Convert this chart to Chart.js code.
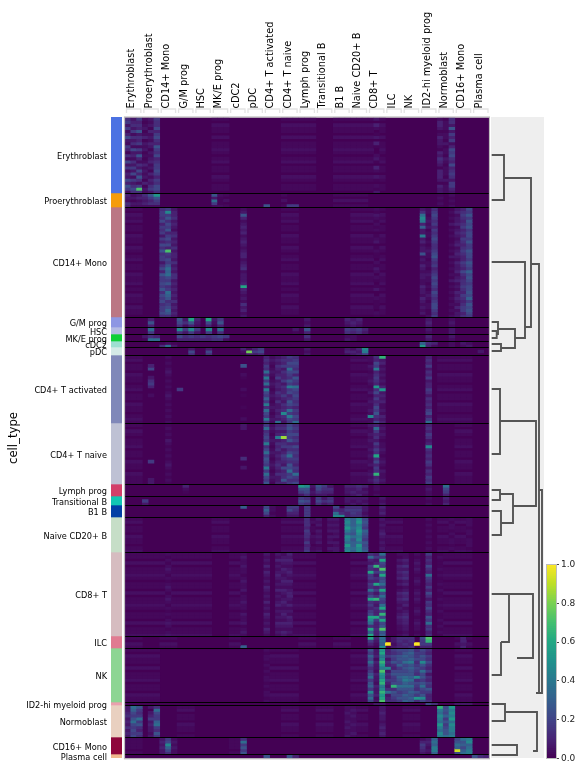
<!DOCTYPE html>
<html><head><meta charset="utf-8">
<script src="https://cdn.jsdelivr.net/npm/chart.js@4"></script>
<style>
html,body{margin:0;padding:0;background:#fff;width:583px;height:771px;overflow:hidden}
canvas{position:absolute;display:block}
</style></head><body>
<canvas id="main" width="490" height="760" style="left:0;top:0"></canvas>
<canvas id="strip" width="11" height="641" style="left:111px;top:117px"></canvas>
<canvas id="dendro" width="53" height="641" style="left:491px;top:117px;background:#eeeeee"></canvas>
<canvas id="cbar" width="37" height="213" style="left:546px;top:558px"></canvas>
<script>
const cellTypes=["Erythroblast","Proerythroblast","CD14+ Mono","G/M prog","HSC","MK/E prog","cDC2","pDC","CD4+ T activated","CD4+ T naive","Lymph prog","Transitional B","B1 B","Naive CD20+ B","CD8+ T","ILC","NK","ID2-hi myeloid prog","Normoblast","CD16+ Mono","Plasma cell"];
const groupSizes=[76,14,110,10,7,7,6,8,68,61,12,9,12,35,84,12,54,3,32,17,4];
const rowCounts=[25,5,37,3,2,2,2,3,23,20,4,3,4,12,28,4,18,1,11,6,1];
const groupColors=["#4c72e2","#f59c0c","#bb7784","#8e96e3","#b5bbe3","#0fcf37","#9edfd1","#d5eae7","#8088b9","#bec1d4","#d33f6a","#11c6b4","#023fa5","#c6dec7","#d6bcc0","#e07b91","#8dd593","#eaa0ae","#e9d0c0","#8e063b","#f0b98d"];
const geneSlots=63;
/* faint level of each group, one digit for each cell type's three genes */
const faintLevels=["000001000110111000000","000001000100110000000","100000000100011000000","000000000000000000000","000000000000000000000","000000000000000000000","000000000000000000000","000000000000000000000","100000000000011000110","100000000000011000010","000000000000000000000","000000000000000000000","000000000000000000000","100001000110000100110","111110100110010000110","101000100010100000010","110000001100010000010","000000000000000000000","000100000101010010000","100000100000000000000","000000000000000000000"];
const faintRows=["1021102011210120110210110","10201","1021201102110210120110211201021102110","121","11","11","10","010","12011021101201102110121","10210112011021102111","1210","111","1011","120110211012","1102011210110201121011020112","1021","102110201120110211","1","12011021101","111101","0"];
/* strongly expressed genes per group: gene index -> row values in twentieths */
const erythroblast={0:"5636247326415273624374862",1:"3453625352734253637263575",2:"64548354626384253748526g5",3:"2123124132312124232314132",4:"3231423243132342314243563",5:"6557467548657456676465775",43:"3042013041002310420310213",54:"2443124332143543144431433",55:"1222122131221321222131222",56:"5538364624767547456536643"};
const proerythroblast={0:"43254",1:"23132",2:"34232",3:"54342",4:"86452",5:"d8652",15:"83a62",16:"21112",24:"00008",28:"00006",29:"00006",54:"12121",56:"21212"};
const cd14Mono={6:"5665746563647585663574866768576756675",7:"6c685768467574g65768a9a76856a98567985",8:"3445343245343534435343553434343534343",20:"23842343423432344234523334e4323253423",43:"2132121201230121102132021013002111021",51:"35acb4933b342338232432332243324323230",52:"2212323122121232212212322121232122112",53:"5676564656765567865645676765765677656",56:"1212131212112121312121213121212121212",57:"3423342343234234324334234232434324233",58:"4565456454654565446547545565465456645",59:"7686878677686687768769787677879687876"};
const gmProg={4:"484",9:"875",10:"352",11:"e84",12:"432",14:"e74",15:"321",16:"684",31:"323",38:"432",39:"343",40:"432",52:"343",56:"232"};
const hsc={4:"a6",9:"c5",10:"63",11:"c6",12:"63",14:"c6",16:"a5",29:"31",31:"84",38:"65",39:"54",40:"65",41:"43",52:"32",56:"33"};
const mkeProg={3:"31",4:"5a",5:"4a",9:"74",10:"54",11:"64",12:"54",13:"64",14:"54",15:"65",16:"75",17:"62",31:"53",38:"23",39:"22",52:"43",56:"32"};
const cdc2={6:"15",7:"2a",8:"13",51:"9d",52:"54",53:"42",56:"22",58:"32",59:"23"};
const pdc={11:"375",14:"375",20:"420",21:"2h3",22:"463",23:"674",31:"323",38:"342",39:"243",40:"434",41:"cb6",61:"030"};
const cd4Activated={4:"00047003564002000000000",7:"21212321212123212121212",9:"00000000000600000000000",20:"00080021000201000100020",24:"45465a5b6a4b7696b5a76b6",25:"23212321232123212321232",26:"3435434634435435334343a",27:"4546354463544643545c543",28:"6576a76586b6745875a6b76",29:"5676574865a76765646576a",42:"22132122321231232232c22",43:"5476b45654d574645768547",44:"f3423232324d34342232434",52:"4546354634465354546746a"};
const cd4Naive={4:"00000000000060000033",7:"12121321212123212121",20:"33000000000500300000",24:"6a5676b57a6876b6a768",25:"23212321232123212321",26:"4534b354534345435334",27:"4535i456346543745584",28:"7867684657a6587a6756",29:"5657564756565465a657",42:"32232322323223123232",43:"4a64536465e57465f454",44:"23232122321232132232",52:"4546534c545465354656"};
const lymphProg={10:"4210",30:"d863",31:"c875",32:"3232",33:"8753",34:"6543",35:"3542",38:"4332",39:"4343",40:"5434",41:"4232",43:"2212",52:"2322",55:"a764"};
const transitionalB={3:"063",30:"686",31:"575",33:"675",34:"353",35:"564",38:"332",39:"323",40:"332",41:"323",44:"323",52:"212",55:"434"};
const b1B={20:"9000",24:"7974",25:"2212",28:"6743",29:"6543",31:"6666",36:"75ac",37:"045c",38:"5644",39:"5665",40:"5655",41:"3323",44:"4342"};
const naiveB={31:"555465546456",33:"323132323123",35:"323231323132",36:"323232313233",38:"bcbdb9cbadbc",39:"999a98a899a9",40:"cdbcdcbcadcc",41:"787698768789",44:"323234323232",52:"212121212121",56:"212212122121",59:"222122122212"};
const cd8T={7:"2121232121232123212121232123",20:"2322322123223122322132231232",24:"3232424323243232423243232432",26:"3242323432324232342323243232",27:"2343243234324323432343243243",28:"4343234324323443242324343232",42:"5a4365e66465a57e56467eca5e9e",43:"4634f46354e4635f43544e644544",44:"a6e76g8e78a6e7a76ae6f7e78g89",47:"2132434342312434323234332212",48:"2243535453423545342345443323",50:"2123232123212323212321232212",52:"6454754a654647536575486a5645",54:"1211121211212112121211212121"};
const ilc={20:"0009",42:"e642",43:"4321",44:"aa9c",45:"00s0",46:"3323",47:"5544",48:"5454",49:"5545",50:"00s0",51:"7664",52:"gf64",58:"4434"};
const nk={24:"212212121221212212",42:"8697a7568a6896c8a7",43:"334243324332433423",44:"debcfdbgdcefbcfdeg",45:"446354c3546435a345",46:"657685478667f58765",47:"768879678987a86786",48:"7898a7878ab9a87989",49:"8989b89889a8a89898",50:"566756765c576586d5",51:"7687c86a7868a768c7",52:"546575463546586445"};
const id2Prog={43:"3",44:"3",52:"7",53:"5",57:"3",58:"3",59:"3"};
const normoblast={0:"33453435343",1:"a9768a76767",2:"8656a685465",4:"30346343323",5:"5a7669a6586",38:"22322323223",39:"23232232232",44:"33433234343",54:"fbacbadbacb",55:"7879686788a",56:"dbcbdacbbab"};
const cd16Mono={6:"343433",7:"67c975",8:"232322",20:"5a6868",51:"246543",52:"343232",53:"9a9bb9",57:"78a9j7",58:"a8979a",59:"bc9abb"};
const plasmaCell={24:"8",28:"8",29:"4",60:"8",61:"5",62:"4"};
const activeCells=[erythroblast,proerythroblast,cd14Mono,gmProg,hsc,mkeProg,cdc2,pdc,cd4Activated,cd4Naive,lymphProg,transitionalB,b1B,naiveB,cd8T,ilc,nk,id2Prog,normoblast,cd16Mono,plasmaCell];
/* dendrogram links: leg positions on the cell axis, leg and join heights */
const dendroPos=[[38,83],[214,221],[205,217],[227,234],[212,231],[145,221],[61,210],[272,337],[373,383],[394,418],[377,406],[304,389],[477,525],[525,558],[587,604],[628,638],[477,541],[595,634],[147,576],[373,576]];
const dendroFrom=[0.7,0.7,0.7,0.7,7,0.7,13,0.7,0.7,0.7,9,9,0.7,10,0.7,0.7,18,14,40,48];
const dendroTo=[0.7,0.7,5.7,0.7,10,24,34,0.7,0.7,0.7,10,22,10,0.7,0.7,0.7,26,42,45,46];
const dendroTop=[13,5.7,7,10,24,34,40,9,9,10,22,45,18,10,14,26,42,46,48,51];
const colorTicks=[0,0.2,0.4,0.6,0.8,1];
const viridisStops=["#440154","#482576","#414487","#355f8d","#2a788e","#21918c","#22a884","#44bf70","#7ad151","#bddf26","#fde725"];

Chart.defaults.font.family='"DejaVu Sans"';
Chart.defaults.animation=false;
function hex(h){return [1,3,5].map(i=>parseInt(h.substr(i,2),16));}
function viridis(v){const p=Math.min(Math.max(v,0),1)*10,i=Math.min(Math.floor(p),9),f=p-i,a=hex(viridisStops[i]),b=hex(viridisStops[i+1]);
 return `rgb(${a.map((c,k)=>Math.round(c+(b[k]-c)*f)).join(",")})`;}
const code="0123456789abcdefghijklmnopqrs";
const decode=ch=>ch>"k"?1:Math.pow(Math.max(code.indexOf(ch),0)/20,1.5);
function cellValue(g,r,c){const col=activeCells[g][c];
 if(col!==undefined) return col[r]===undefined?0:decode(col[r]);
 const lvl=+faintLevels[g][Math.floor(c/3)],f=+(faintRows[g][r]||0);return lvl*f*0.02;}
const boundaries=[0];groupSizes.forEach(s=>boundaries.push(boundaries[boundaries.length-1]+s));
const total=boundaries[boundaries.length-1];
const centers=groupSizes.map((s,i)=>boundaries[i]+s/2);
const slots=Array.from({length:geneSlots},(_,i)=>i);
const rowSets=[];
groupSizes.forEach((size,g)=>{const n=rowCounts[g],h=size/n;
 for(let r=0;r<n;r++){const y0=boundaries[g]+r*h,y1=y0+h,data=[],colors=[];
  slots.forEach(c=>{const v=cellValue(g,r,c);data.push(v>0?[y0,y1]:null);colors.push(viridis(v));});
  rowSets.push({data,backgroundColor:colors,borderWidth:0,barPercentage:1,categoryPercentage:1,grouped:false});}});

const heatDecor={id:"heatDecor",
 beforeDatasetsDraw(c){const a=c.chartArea,x=c.ctx;x.save();x.fillStyle="#440154";x.fillRect(a.left,a.top,a.width,a.height);x.restore();},
 afterDraw(c){const a=c.chartArea,x=c.ctx,sx=c.scales.x,sy=c.scales.y;x.save();
  x.strokeStyle="#000";x.lineWidth=1;
  boundaries.slice(1,-1).forEach(b=>{const p=Math.floor(sy.getPixelForValue(b))+0.5;x.beginPath();x.moveTo(a.left,p);x.lineTo(a.right,p);x.stroke();});
  x.strokeStyle="#bdbdbd";x.lineWidth=1.2;x.strokeRect(a.left-0.5,a.top-0.5,a.width+0.5,a.height+0.8);
  x.strokeStyle="#e4e4e4";x.lineWidth=1.3;
  for(let i=0;i<cellTypes.length;i++){const w=sx.getPixelForValue(1)-sx.getPixelForValue(0),l=sx.getPixelForValue(i*3)-w/2+1.5,r=sx.getPixelForValue(i*3+2)+w/2-1.5;
   x.beginPath();x.moveTo(l,113);x.lineTo(l,109);x.lineTo(r,109);x.lineTo(r,113);x.stroke();}
  x.restore();}};
new Chart(document.getElementById("main"),{type:"bar",plugins:[heatDecor],
 data:{labels:slots,datasets:rowSets},
 options:{responsive:false,devicePixelRatio:1,animation:false,layout:{padding:{left:0,right:0.5,top:0,bottom:1.5}},
  plugins:{legend:{display:false},tooltip:{enabled:false}},
  scales:{
   x:{type:"category",position:"top",offset:true,grid:{display:false},border:{display:false},
    ticks:{autoSkip:false,minRotation:90,maxRotation:90,padding:1,labelOffset:10,color:"#000",font:{size:9.8},
     callback:(v,i)=>i%3===1?cellTypes[(i-1)/3]:""},
    afterFit(s){s.height=117.5;s.paddingLeft=0;s.paddingRight=0;}},
   y:{type:"linear",reverse:true,min:0,max:total,grid:{display:false},border:{display:false},
    title:{display:true,text:"cell_type",color:"#000",font:{size:11.7},padding:{top:7,bottom:0}},
    afterBuildTicks(s){s.ticks=centers.map(v=>({value:v}));},
    ticks:{autoSkip:false,padding:10,labelOffset:1.5,color:"#000",font:{size:8.2},callback:(v,i)=>cellTypes[i]},
    afterFit(s){s.width=125;s.paddingTop=0;s.paddingBottom=0;}}}}});

new Chart(document.getElementById("strip"),{type:"bar",
 data:{labels:["group"],datasets:cellTypes.map((n,i)=>({label:n,data:[[boundaries[i],boundaries[i+1]]],backgroundColor:groupColors[i],borderWidth:0,barPercentage:1,categoryPercentage:1,grouped:false}))},
 options:{responsive:false,devicePixelRatio:1,animation:false,plugins:{legend:{display:false},tooltip:{enabled:false}},
  scales:{x:{display:false},y:{display:false,reverse:true,min:0,max:total}}}});

new Chart(document.getElementById("dendro"),{type:"scatter",
 data:{datasets:dendroPos.map((p,i)=>({showLine:true,tension:0,pointRadius:0,borderColor:"#555555",borderWidth:1.9,borderJoinStyle:"miter",borderCapStyle:"butt",
  data:[{x:dendroFrom[i],y:p[0]},{x:dendroTop[i],y:p[0]},{x:dendroTop[i],y:p[1]},{x:dendroTo[i],y:p[1]}]}))},
 options:{responsive:false,devicePixelRatio:1,animation:false,plugins:{legend:{display:false},tooltip:{enabled:false}},
  scales:{x:{display:false,type:"linear",min:0,max:53},y:{display:false,reverse:true,min:0,max:total}}}});

const barLevels=Array.from({length:100},(_,i)=>i/100);
const cbarFrame={id:"cbarFrame",afterDraw(c){const a=c.chartArea,x=c.ctx;x.save();x.strokeStyle="#bdbdbd";x.lineWidth=1;x.strokeRect(a.left+0.5,a.top,a.width-1,a.height);x.restore();}};
new Chart(document.getElementById("cbar"),{type:"bar",plugins:[cbarFrame],
 data:{labels:["scale"],datasets:barLevels.map(l=>({data:[[l,l+0.0105]],backgroundColor:viridis(l+0.005),borderWidth:0,barPercentage:1,categoryPercentage:1,grouped:false}))},
 options:{responsive:false,devicePixelRatio:1,animation:false,layout:{padding:{top:6.5,bottom:12.5}},plugins:{legend:{display:false},tooltip:{enabled:false}},
  scales:{x:{display:false},
   y:{position:"right",min:0,max:1,border:{display:false},
    grid:{drawOnChartArea:false,drawTicks:true,tickLength:2,color:"#444"},
    afterBuildTicks(s){s.ticks=colorTicks.map(v=>({value:v}));},
    ticks:{padding:2,color:"#222",font:{size:9},callback:v=>v.toFixed(1)},
    afterFit(s){s.width=26;s.paddingTop=0;s.paddingBottom=0;}}}}});
</script>
</body></html>
